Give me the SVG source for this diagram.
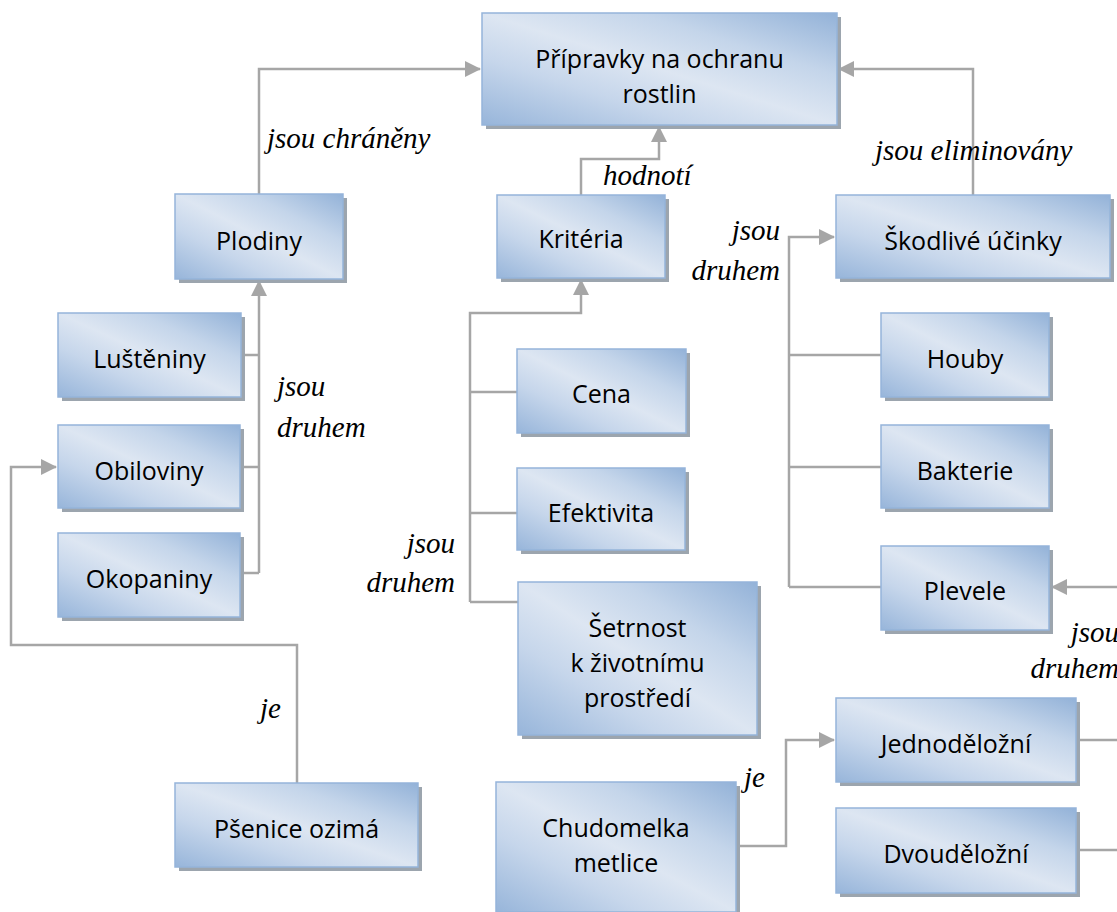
<svg xmlns="http://www.w3.org/2000/svg" width="1117" height="912" viewBox="0 0 1117 912">
  <style>
    .shadow { fill: #9ca5ae; }
    .box { fill: url(#boxFill); stroke: #95b4da; stroke-width: 1.5; }
    .t { font-family: "Open Sans", "Liberation Sans", sans-serif; font-size: 25px; text-anchor: middle; fill: #000; }
    .lbl { font-family: "Liberation Serif", serif; font-style: italic; font-size: 29px; fill: #000; }
    .end { text-anchor: end; }
    .c { fill: none; stroke: #a6a6a6; stroke-width: 2.5; }
  </style>
  <defs>
    <linearGradient id="boxFill" x1="0" y1="1" x2="1" y2="0">
      <stop offset="0" stop-color="#97b5da"/>
      <stop offset="0.3" stop-color="#c6d6eb"/>
      <stop offset="0.5" stop-color="#dde6f2"/>
      <stop offset="0.72" stop-color="#c4d5ea"/>
      <stop offset="1" stop-color="#93b2d8"/>
    </linearGradient>
    <marker id="arrow" markerUnits="userSpaceOnUse" markerWidth="16" markerHeight="16" viewBox="0 0 16 16" refX="15" refY="8" orient="auto">
      <path d="M0,0 L16,8 L0,16 Z" fill="#a6a6a6"/>
    </marker>
  </defs>

  <!-- connectors -->
  <g id="connectors">
    <path class="c" d="M259,194 V69 H480" marker-end="url(#arrow)"/>
    <path class="c" d="M581,195 V159 H659 V127" marker-end="url(#arrow)"/>
    <path class="c" d="M973,195 V69 H839" marker-end="url(#arrow)"/>
    <path class="c" d="M241,355 H259 M240,467 H259 M240,573 H259"/>
    <path class="c" d="M259,573 V281" marker-end="url(#arrow)"/>
    <path class="c" d="M297,783 V645 H11 V467 H56" marker-end="url(#arrow)"/>
    <path class="c" d="M470,392 H517 M470,513 H517 M470,602 H518"/>
    <path class="c" d="M470,602 V313 H581 V280" marker-end="url(#arrow)"/>
    <path class="c" d="M789,355 H881 M789,467 H881 M789,587 H881"/>
    <path class="c" d="M789,587 V237 H834" marker-end="url(#arrow)"/>
    <path class="c" d="M1125,587 H1052" marker-end="url(#arrow)"/>
    <path class="c" d="M1076,740 H1125 M1076,850 H1125"/>
    <path class="c" d="M736,846 H786 V740 H834" marker-end="url(#arrow)"/>
  </g>

  <!-- relation labels -->
  <g id="labels">
    <text class="lbl" x="267" y="148">jsou chráněny</text>
    <text class="lbl" x="603" y="185">hodnotí</text>
    <text class="lbl" x="875" y="160">jsou eliminovány</text>
    <text class="lbl end" x="780" y="240">jsou</text>
    <text class="lbl end" x="780" y="280">druhem</text>
    <text class="lbl" x="277" y="396">jsou</text>
    <text class="lbl" x="277" y="437">druhem</text>
    <text class="lbl end" x="455" y="553">jsou</text>
    <text class="lbl end" x="455" y="592">druhem</text>
    <text class="lbl" x="260" y="718">je</text>
    <text class="lbl end" x="1119" y="642">jsou</text>
    <text class="lbl end" x="1119" y="678">druhem</text>
    <text class="lbl" x="744" y="787">je</text>
  </g>

  <g id="pripravky">
    <rect class="shadow" x="486" y="17" width="355" height="112"/>
    <rect class="box" x="482" y="13" width="355" height="112"/>
    <text class="t" x="659.5" y="68">Přípravky na ochranu</text>
    <text class="t" x="659.5" y="103">rostlin</text>
  </g>
  <g id="plodiny">
    <rect class="shadow" x="179" y="198" width="168" height="85"/>
    <rect class="box" x="175" y="194" width="168" height="85"/>
    <text class="t" x="259" y="250">Plodiny</text>
  </g>
  <g id="kriteria">
    <rect class="shadow" x="501" y="199" width="168" height="83"/>
    <rect class="box" x="497" y="195" width="168" height="83"/>
    <text class="t" x="581" y="248">Kritéria</text>
  </g>
  <g id="skodlive-ucinky">
    <rect class="shadow" x="840" y="199" width="274" height="83"/>
    <rect class="box" x="836" y="195" width="274" height="83"/>
    <text class="t" x="973" y="250">Škodlivé účinky</text>
  </g>
  <g id="lusteniny">
    <rect class="shadow" x="62" y="317" width="183" height="84"/>
    <rect class="box" x="58" y="313" width="183" height="84"/>
    <text class="t" x="149.5" y="368">Luštěniny</text>
  </g>
  <g id="obiloviny">
    <rect class="shadow" x="62" y="429" width="182" height="83"/>
    <rect class="box" x="58" y="425" width="182" height="83"/>
    <text class="t" x="149" y="480">Obiloviny</text>
  </g>
  <g id="okopaniny">
    <rect class="shadow" x="62" y="537" width="182" height="84"/>
    <rect class="box" x="58" y="533" width="182" height="84"/>
    <text class="t" x="149" y="588">Okopaniny</text>
  </g>
  <g id="cena">
    <rect class="shadow" x="521" y="353" width="169" height="84"/>
    <rect class="box" x="517" y="349" width="169" height="84"/>
    <text class="t" x="601.5" y="403">Cena</text>
  </g>
  <g id="efektivita">
    <rect class="shadow" x="521" y="472" width="168" height="82"/>
    <rect class="box" x="517" y="468" width="168" height="82"/>
    <text class="t" x="601" y="522">Efektivita</text>
  </g>
  <g id="setrnost">
    <rect class="shadow" x="522" y="586" width="239" height="153"/>
    <rect class="box" x="518" y="582" width="239" height="153"/>
    <text class="t" x="637.5" y="637">Šetrnost</text>
    <text class="t" x="637.5" y="672">k životnímu</text>
    <text class="t" x="637.5" y="707">prostředí</text>
  </g>
  <g id="houby">
    <rect class="shadow" x="885" y="317" width="168" height="84"/>
    <rect class="box" x="881" y="313" width="168" height="84"/>
    <text class="t" x="965" y="368">Houby</text>
  </g>
  <g id="bakterie">
    <rect class="shadow" x="885" y="429" width="168" height="83"/>
    <rect class="box" x="881" y="425" width="168" height="83"/>
    <text class="t" x="965" y="480">Bakterie</text>
  </g>
  <g id="plevele">
    <rect class="shadow" x="885" y="550" width="168" height="84"/>
    <rect class="box" x="881" y="546" width="168" height="84"/>
    <text class="t" x="965" y="600">Plevele</text>
  </g>
  <g id="psenice-ozima">
    <rect class="shadow" x="179" y="787" width="243" height="84"/>
    <rect class="box" x="175" y="783" width="243" height="84"/>
    <text class="t" x="296.5" y="838">Pšenice ozimá</text>
  </g>
  <g id="chudomelka-metlice">
    <rect class="shadow" x="500" y="786" width="240" height="130"/>
    <rect class="box" x="496" y="782" width="240" height="130"/>
    <text class="t" x="616" y="837">Chudomelka</text>
    <text class="t" x="616" y="872">metlice</text>
  </g>
  <g id="jednodelozni">
    <rect class="shadow" x="840" y="702" width="240" height="84"/>
    <rect class="box" x="836" y="698" width="240" height="84"/>
    <text class="t" x="956" y="753">Jednoděložní</text>
  </g>
  <g id="dvoudelozni">
    <rect class="shadow" x="840" y="812" width="240" height="85"/>
    <rect class="box" x="836" y="808" width="240" height="85"/>
    <text class="t" x="956" y="863">Dvouděložní</text>
  </g>
</svg>
